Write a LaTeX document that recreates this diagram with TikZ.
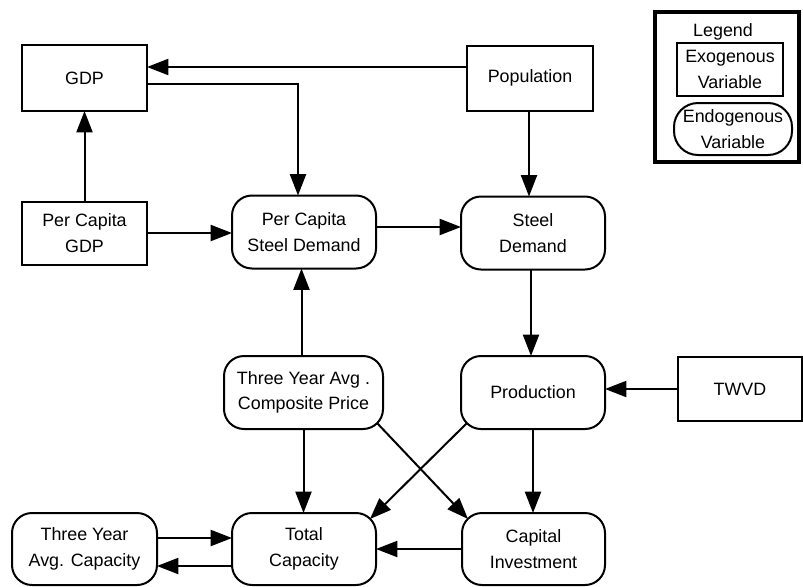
\documentclass[tikz,border=0pt]{standalone}
\usepackage{fontspec}
\setmainfont{Liberation Sans}
\usetikzlibrary{arrows.meta,calc}
\begin{document}
\begin{tikzpicture}[x=0.75pt,y=-0.75pt,
  every node/.style={font=\fontsize{13.4}{19}\selectfont, align=center, inner sep=0pt, outer sep=0pt, line width=1.5pt},
  sz/.style 2 args={minimum width=#1*0.75pt, minimum height=#2*0.75pt},
  exo/.style={draw, rectangle},
  endo/.style={draw, rectangle, rounded corners=15pt},
  arr/.style={line width=1.5pt, -{Triangle[length=16pt,width=12pt]}}]
\useasboundingbox (0,0) rectangle (803,586);
% nodes
\node[exo, sz={125}{66}] (gdp) at (84.5,78) {GDP};
\node[exo, sz={126}{65}] (pop) at (530,78) {Population};
\node[exo, sz={125}{63}] (pcgdp) at (84.5,233) {Per Capita\\GDP};
\node[endo, sz={144}{73}] (pcsd) at (304,232) {Per Capita\\Steel Demand};
\node[endo, sz={144}{73}] (sd) at (533,233) {Steel\\Demand};
\node[endo, sz={159}{73}] (cp) at (303.5,392.5) {Three Year Avg .\\Composite Price};
\node[endo, sz={144}{73}] (prod) at (533,392.5) {Production};
\node[exo, sz={124}{64}] (twvd) at (740,389) {TWVD};
\node[endo, sz={145}{72}] (tyac) at (84.5,549) {Three Year\\Avg. Capacity};
\node[endo, sz={144}{72}] (tc) at (304,549) {Total\\Capacity};
\node[endo, sz={143}{72}] (ci) at (533.5,549) {Capital\\Investment};
% legend
\node[draw, line width=3pt, sz={144}{150}] (leg) at (727,87) {};
\node (legt) at (723,32) {Legend};
\node[exo, sz={106}{53}] (exo) at (730,69.5) {Exogenous\\Variable};
\node[draw, rounded corners=18pt, sz={118}{52}] (endo) at (733,129) {Endogenous\\Variable};
% connectors
\draw[arr] ([yshift=8.25pt]pop.west) -- ([yshift=8.25pt]gdp.east);
\draw[arr] ([yshift=-4.5pt]gdp.east) -| ([xshift=-4.5pt]pcsd.north);
\draw[arr] (pcgdp.north) -- (gdp.south);
\draw[arr] (pcgdp.east) -- (pcgdp.east -| pcsd.west);
\draw[arr] ([yshift=3.75pt]pcsd.east) -- ([yshift=3.75pt]pcsd.east -| sd.west);
\draw[arr] ([xshift=-0.75pt]pop.south) -- ([xshift=-0.75pt]pop.south |- sd.north);
\draw[arr] ([xshift=-1.5pt]sd.south) -- ([xshift=-1.5pt]prod.north);
\draw[arr] (twvd.west) -- (twvd.west -| prod.east);
\draw[arr] ([xshift=-1.5pt]cp.north) -- ([xshift=-1.5pt]cp.north |- pcsd.south);
\draw[arr] (cp.south) -- (cp.south |- tc.north);
\draw[arr] ($(cp.south east)+(-6,-6)$) -- ($(ci.north west)+(6,6)$);
\draw[arr] ($(prod.south west)+(6,-6)$) -- ($(tc.north east)+(-6,6)$);
\draw[arr] (prod.south) -- (prod.south |- ci.north);
\draw[arr] ([yshift=8.25pt]tyac.east) -- ([yshift=8.25pt]tc.west);
\draw[arr] ([yshift=-12.75pt]tc.west) -- ([yshift=-12.75pt]tyac.east);
\draw[arr] (ci.west) -- (ci.west -| tc.east);
\end{tikzpicture}
\end{document}
